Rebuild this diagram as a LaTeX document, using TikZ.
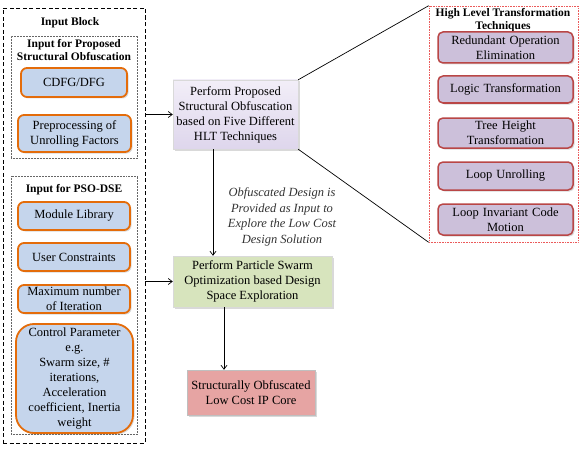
\documentclass[tikz,border=0pt]{standalone}
\usepackage{fontspec}
\setmainfont{Liberation Serif}
\usetikzlibrary{arrows.meta,shadows}
\definecolor{bluefill}{RGB}{197,213,236}
\definecolor{orangeline}{RGB}{228,108,10}
\definecolor{purplefill}{RGB}{204,192,218}
\definecolor{redline}{RGB}{185,70,70}
\definecolor{lavtop}{RGB}{242,238,248}
\definecolor{lavbot}{RGB}{222,214,236}
\definecolor{greenfill}{RGB}{215,228,189}
\definecolor{redfill}{RGB}{230,164,163}
\definecolor{hltframe}{RGB}{235,90,90}
\begin{document}
\begin{tikzpicture}[x=1pt,y=-1pt,
  font=\fontsize{12.5}{15}\selectfont,
  shd/.style={drop shadow={opacity=0.3,shadow xshift=1.5pt,shadow yshift=-1.5pt}},
  inbox/.style={draw=orangeline,line width=1.8pt,fill=bluefill,rounded corners=6pt,
    align=center,inner sep=0pt,shd},
  hltbox/.style={draw=redline,line width=1.5pt,fill=purplefill,rounded corners=5pt,
    align=center,inner sep=0pt,minimum width=135pt,text width=132pt,shd},
  mainbox/.style={draw=black!15,line width=0.4pt,align=center,inner sep=0pt,shd},
  ttl/.style={font=\fontsize{11.5}{13}\selectfont\bfseries,align=center,inner sep=0pt},
  frame/.style={draw,inner sep=0pt,fill=none},
  arr/.style={-{Straight Barb[length=4pt,width=6pt]},line width=0.7pt},
  link/.style={line width=0.7pt}]
\useasboundingbox (0,0) rectangle (584,452);

% frames
\node[frame,dashed,line width=0.9pt,dash pattern=on 4pt off 2.5pt,minimum width=142pt,minimum height=435pt] (inblock) at (74,225.5) {};
\node[frame,densely dotted,draw=black!60,line width=0.5pt,minimum width=126pt,minimum height=122pt] (inA) at (74,97) {};
\node[frame,densely dotted,draw=black!60,line width=0.5pt,minimum width=126pt,minimum height=258pt] (inB) at (74,305) {};
\node[frame,densely dotted,draw=hltframe,line width=0.6pt,minimum width=149pt,minimum height=236pt] (hlt) at (503.5,124) {};

% titles
\node[ttl] (t1) at (70,23) {Input Block};
\node[ttl] (t2) at (74,50) {Input for Proposed\\Structural Obfuscation};
\node[ttl] (t3) at (74,190) {Input for PSO-DSE};
\node[ttl] (t4) at (503,20) {High Level Transformation\\Techniques};

% input boxes
\node[inbox,minimum width=106pt,minimum height=29pt] (cdfg) at (74,82.5) {CDFG/DFG};
\node[inbox,minimum width=113pt,minimum height=37pt] (prep) at (74.5,133.5) {Preprocessing of\\Unrolling Factors};
\node[inbox,minimum width=112pt,minimum height=28pt] (mod) at (74,216) {Module Library};
\node[inbox,minimum width=112pt,minimum height=28pt] (usr) at (74,257) {User Constraints};
\node[inbox,minimum width=112pt,minimum height=28pt] (maxit) at (74,299) {Maximum number\\of Iteration};
\node[inbox,rounded corners=18pt,minimum width=117pt,minimum height=109pt] (ctrl) at (74.5,378.5)
  {Control Parameter\\e.g.\\Swarm size, \#\\iterations,\\Acceleration\\coefficient, Inertia\\weight};

% HLT boxes
\node[hltbox,minimum height=31pt] (h1) at (505.5,47.5) {Redundant Operation\\Elimination};
\node[hltbox,minimum height=27pt] (h2) at (505.5,89.5) {Logic Transformation};
\node[hltbox,minimum height=30pt] (h3) at (505.5,133) {Tree Height\\Transformation};
\node[hltbox,minimum height=28pt] (h4) at (505.5,176) {Loop Unrolling};
\node[hltbox,minimum height=31pt] (h5) at (505.5,219.5) {Loop Invariant Code\\Motion};

% main flow
\node[mainbox,top color=lavtop,bottom color=lavbot,minimum width=125pt,minimum height=69pt] (obf) at (235.5,114.5)
  {Perform Proposed\\Structural Obfuscation\\based on Five Different\\HLT Techniques};
\node[mainbox,fill=greenfill,minimum width=159pt,minimum height=51pt] (pso) at (252.5,281.5)
  {Perform Particle Swarm\\Optimization based Design\\Space Exploration};
\node[mainbox,fill=redfill,draw=black!25,minimum width=128pt,minimum height=45pt] (core) at (251,392.5)
  {Structurally Obfuscated\\Low Cost IP Core};

\node[align=center,inner sep=0pt,text=black!80,font=\fontsize{12.5}{15.5}\selectfont\itshape] (note) at (282,217)
  {Obfuscated Design is\\Provided as Input to\\Explore the Low Cost\\Design Solution};

% connectors
\draw[arr] (obf.west -| inblock.east) -- (obf.west);
\draw[arr] (pso.west -| inblock.east) -- (pso.west);
\draw[arr] ([xshift=-22.5pt]obf.south) -- ([xshift=-22.5pt]obf.south |- pso.north);
\draw[arr] ([xshift=-28.5pt]pso.south) -- ([xshift=-28.5pt]pso.south |- core.north);
\draw[link] (obf.north east) -- (hlt.north west);
\draw[link] (obf.south east) -- (hlt.south west);
\end{tikzpicture}
\end{document}
